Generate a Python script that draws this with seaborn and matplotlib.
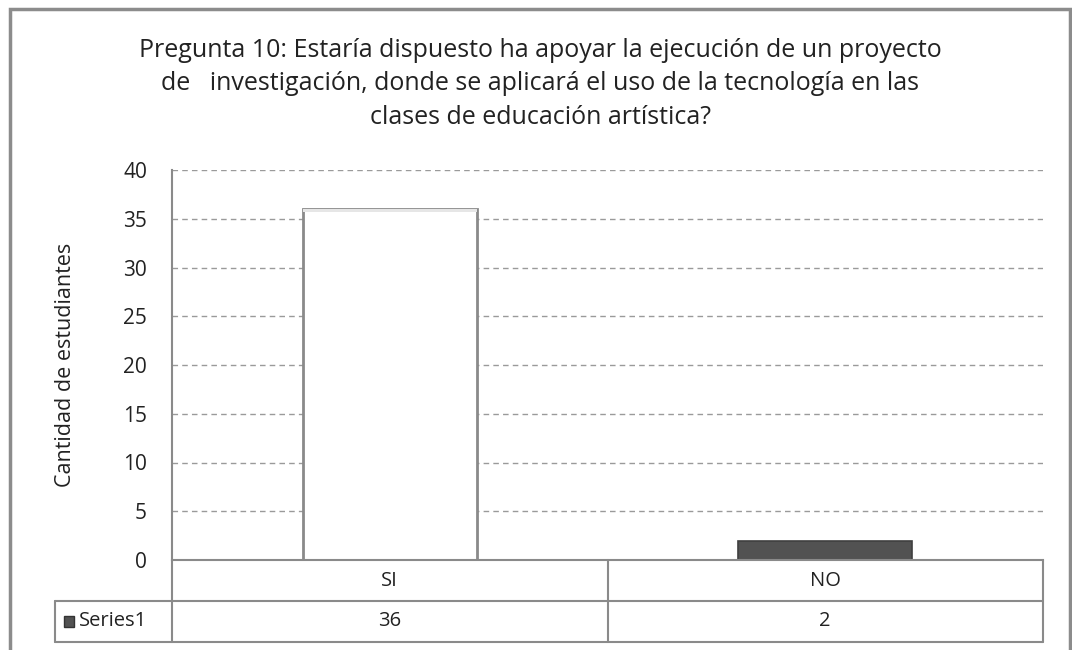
import matplotlib.pyplot as plt
import seaborn as sns
import pandas as pd
from matplotlib.patches import Rectangle

# Data
categories = ["SI", "NO"]
values = [36, 2]
series_name = "Series1"
title = ("Pregunta 10: Estaría dispuesto ha apoyar la ejecución de un proyecto\n"
         "de   investigación, donde se aplicará el uso de la tecnología en las\n"
         "clases de educación artística?")
ylabel = "Cantidad de estudiantes"

sns.set_theme(style="white")
plt.rcParams['font.family'] = ['Open Sans', 'DejaVu Sans']

df = pd.DataFrame({"cat": categories, "val": values})

fig = plt.figure(figsize=(10.72, 6.5), dpi=100)
ax = fig.add_axes([172/1072, 90/650, 871/1072, 390/650])

sns.barplot(data=df, x="cat", y="val", ax=ax, width=0.4,
            palette=["white", "#525252"], hue="cat", legend=False,
            edgecolor="#8a8a8a", linewidth=2)
ax.patches[1].set_edgecolor("#3f3f3f")
ax.patches[1].set_linewidth(1.2)

# light band at the top of the white bar, like the original bevel
b = ax.patches[0]
ax.add_patch(Rectangle((b.get_x(), values[0] - 0.35), b.get_width(), 0.35,
                       facecolor="#e6e6e6", edgecolor="none", zorder=b.get_zorder()))

ax.set_ylim(0, 40)
ax.set_yticks(range(0, 41, 5))
ax.set_xlim(-0.5, 1.5)
ax.set_xticks([])
ax.set_xlabel("")
ax.set_ylabel(ylabel, fontsize=15.5, color="#222222", labelpad=34)
ax.tick_params(axis="y", labelsize=15, colors="#222222", length=0, pad=18)
ax.yaxis.grid(True, linestyle=(0, (4, 3)), color="#9a9a9a", linewidth=1)
ax.set_axisbelow(True)
for s in ["top", "right"]:
    ax.spines[s].set_visible(False)
for s in ["left", "bottom"]:
    ax.spines[s].set_color("#8a8a8a")
    ax.spines[s].set_linewidth(1.5)

# data table under the axis
lc = "#8a8a8a"
r1 = -41/390
r2 = -82/390
xl = (55-172)/871
kw = dict(color=lc, linewidth=1.5, clip_on=False, transform=ax.transAxes)
ax.plot([0, 0], [0, r2], **kw)
ax.plot([0.5, 0.5], [0, r2], **kw)
ax.plot([1, 1], [0, r2], **kw)
ax.plot([xl, xl], [r1, r2], **kw)
ax.plot([xl, 1], [r1, r1], **kw)
ax.plot([xl, 1], [r2, r2], **kw)
for i, (c, v) in enumerate(zip(categories, values)):
    xc = 0.25 + 0.5*i
    ax.text(xc, r1/2, c, transform=ax.transAxes, ha="center", va="center",
            fontsize=14.5, color="#222222")
    ax.text(xc, (r1+r2)/2, str(v), transform=ax.transAxes, ha="center", va="center",
            fontsize=14.5, color="#222222")
ax.add_patch(Rectangle((xl + 0.01, (r1+r2)/2 - 0.013), 0.012, 0.027,
                       transform=ax.transAxes, facecolor="#525252",
                       edgecolor="#333333", clip_on=False))
ax.text(xl + 0.027, (r1+r2)/2, series_name, transform=ax.transAxes,
        ha="left", va="center", fontsize=14.5, color="#222222")

fig.text(540/1072, 1 - 84/650, title, ha="center", va="center",
         fontsize=18, color="#222222", linespacing=1.45)

fig.patches.append(Rectangle((10/1072, -0.05), 1060/1072, 1.05 - 9/650,
                             transform=fig.transFigure, fill=False,
                             edgecolor="#8c8c8c", linewidth=2.5))

fig.savefig("out.png", dpi=100)
